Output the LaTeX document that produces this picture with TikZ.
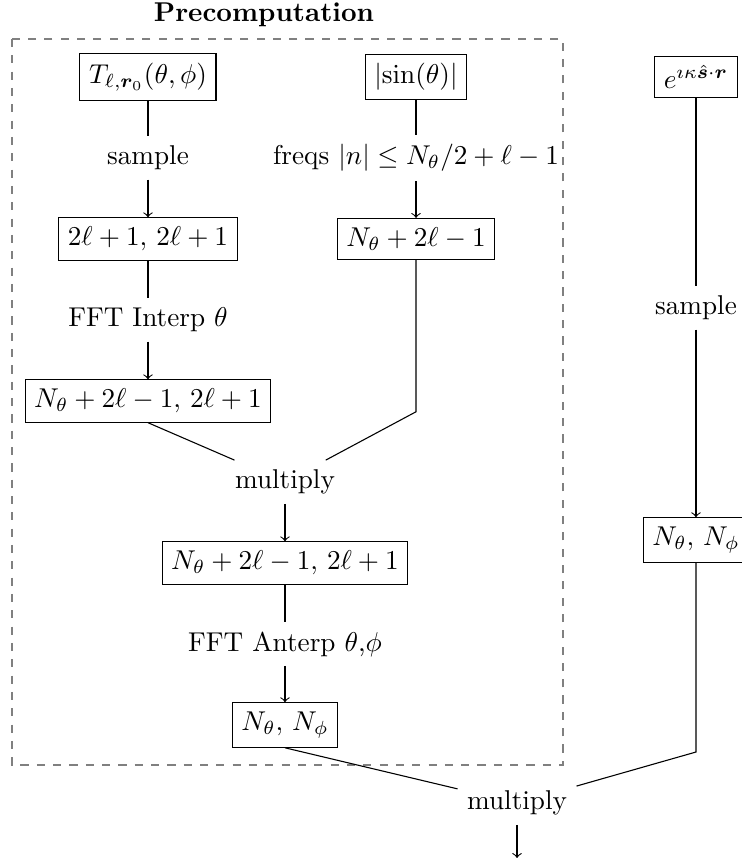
\documentclass[tikz,border=0pt]{standalone}
\usepackage{amsmath,amssymb,bm}
\usetikzlibrary{calc}
\tikzset{blk/.style={draw,rectangle}}

\begin{document}
\begin{tikzpicture}
            \useasboundingbox (0,0) rectangle (9.574,-11.150);
            \draw[dashed,gray] (0.155,-0.504) rectangle (7.274,-9.884);
            \node (title) at (3.411,-0.194) {\textbf{Precomputation}};
            \node[blk] (tmat) at (1.912,-0.995) {\(T_{\ell,\bm{r}_0}(\theta,\phi)\)};
            \node[blk] (sinabs) at (5.375,-0.995) {\(\lvert\sin(\theta)\rvert\)};
            \node[blk] (expf) at (8.992,-0.995) {\(e^{\imath\kappa\hat{\bm{s}}\cdot\bm{r}}\)};
            \node (smpl) at (1.912,-2.041) {sample};
            \node (freqs) at (5.375,-2.041) {freqs \(|n|\leq N_\theta/2+\ell-1\)};
            \node[blk] (tsamp) at (1.912,-3.088) {\(2\ell+1,\,2\ell+1\)};
            \node[blk] (sinfreq) at (5.375,-3.088) {\(N_\theta+2\ell-1\)};
            \node (interp) at (1.912,-4.134) {FFT Interp \(\theta\)};
            \node[blk] (tinterp) at (1.912,-5.181) {\(N_\theta+2\ell-1,\,2\ell+1\)};
            \coordinate (bend) at (5.375,-5.320);
            \node (mulin) at (3.682,-6.227) {multiply};
            \node[blk] (prod) at (3.682,-7.274) {\(N_\theta+2\ell-1,\,2\ell+1\)};
            \node (anterp) at (3.682,-8.320) {FFT Anterp \(\theta\),\(\phi\)};
            \node[blk] (tfinal) at (3.682,-9.367) {\(N_\theta,\,N_\phi\)};
            \node (smplr) at (8.992,-3.979) {sample};
            \node[blk] (expsamp) at (8.992,-6.977) {\(N_\theta,\,N_\phi\)};
            \coordinate (corner) at (8.992,-9.716);
            \node (mulout) at (6.680,-10.375) {multiply};
            \coordinate (out) at (6.680,-11.085);
            \draw (tmat)--(smpl);
            \draw[->] (smpl)--(tsamp);
            \draw (sinabs)--(freqs);
            \draw[->] (freqs)--(sinfreq);
            \draw (tsamp)--(interp);
            \draw[->] (interp)--(tinterp);
            \draw (tinterp.south)--(mulin);
            \draw (sinfreq)--(bend)--(mulin);
            \draw[->] (mulin)--(prod);
            \draw (prod)--(anterp);
            \draw[->] (anterp)--(tfinal);
            \draw (expf)--(smplr);
            \draw[->] (smplr)--(expsamp);
            \draw (tfinal.south)--(mulout);
            \draw (expsamp)--(corner)--(mulout);
            \draw[->] (mulout)--(out);
        \end{tikzpicture}
\end{document}
